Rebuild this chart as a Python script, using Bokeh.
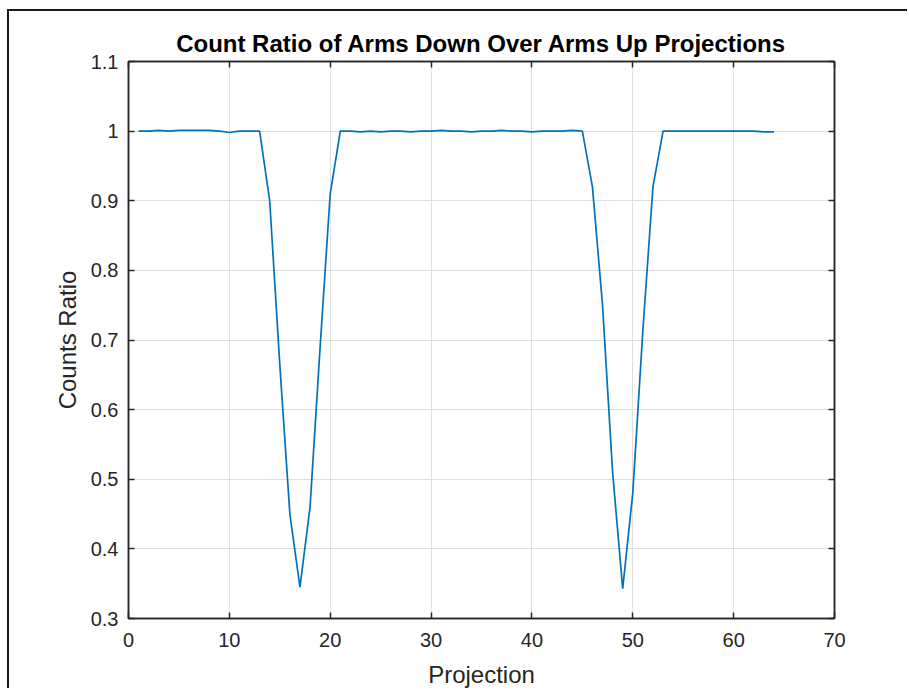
from bokeh.plotting import figure
from bokeh.models import FixedTicker, LinearAxis, ColumnDataSource
from bokeh.embed import file_html
from bokeh.resources import INLINE

# ---- data ----
projection = list(range(1, 65))
ratio = [
    1.000, 1.000, 1.001, 1.000, 1.001, 1.001, 1.001, 1.001, 1.000, 0.998, 1.000, 1.000, 1.000,
    0.900, 0.665, 0.450, 0.345, 0.460, 0.690, 0.910, 1.000,
    1.000, 0.999, 1.000, 0.999, 1.000, 1.000, 0.999, 1.000, 1.000, 1.001, 1.000, 1.000,
    0.999, 1.000, 1.000, 1.001, 1.000, 1.000, 0.999, 1.000, 1.000, 1.000, 1.001,
    1.000,
    0.920, 0.750, 0.510, 0.343, 0.480, 0.714, 0.920, 1.000,
    1.000, 1.000, 1.000, 1.000, 1.000, 1.000, 1.000, 1.000, 1.000, 0.999, 0.999,
]
x_ticks = [0, 10, 20, 30, 40, 50, 60, 70]
y_ticks = [0.3, 0.4, 0.5, 0.6, 0.7, 0.8, 0.9, 1.0, 1.1]
y_tick_labels = ["0.3", "0.4", "0.5", "0.6", "0.7", "0.8", "0.9", "1", "1.1"]
title_text = "Count Ratio of Arms Down Over Arms Up Projections"
x_label = "Projection"
y_label = "Counts Ratio"

FONT = "Liberation Sans"
AX = "#262626"

src = ColumnDataSource(dict(x=projection, y=ratio))

p = figure(width=900, height=679, x_range=(0, 70), y_range=(0.3, 1.1),
           output_backend="svg", toolbar_location=None,
           min_border_left=119, min_border_right=75, min_border_top=50, min_border_bottom=72)
p.styles = {"margin-left": "7px", "margin-top": "9px",
            "border-left": "2px solid #1a1a1a", "border-top": "2px solid #1a1a1a"}
p.background_fill_color = "white"
p.border_fill_color = "white"

p.title.text = title_text
p.title.align = "center"
p.title.text_font = FONT
p.title.text_font_style = "bold"
p.title.text_font_size = "24px"
p.title.text_color = "black"
p.title.standoff = 10

p.line("x", "y", source=src, line_color="#0072BD", line_width=1.7)

xt = FixedTicker(ticks=x_ticks)
yt = FixedTicker(ticks=y_ticks)

def style_axis(ax):
    ax.axis_line_color = AX
    ax.axis_line_width = 1.5
    ax.major_tick_line_color = AX
    ax.major_tick_line_width = 1.5
    ax.major_tick_in = 6
    ax.major_tick_out = 0
    ax.minor_tick_line_color = None
    ax.major_label_text_font = FONT
    ax.major_label_text_color = AX
    ax.major_label_text_font_size = "20px"
    ax.axis_label_text_font = FONT
    ax.axis_label_text_font_style = "normal"
    ax.axis_label_text_font_size = "24px"
    ax.axis_label_text_color = AX

p.xaxis.ticker = xt
p.yaxis.ticker = yt
p.yaxis.major_label_overrides = {t: l for t, l in zip(y_ticks, y_tick_labels)}
p.xaxis.axis_label = x_label
p.yaxis.axis_label = y_label
style_axis(p.xaxis[0])
style_axis(p.yaxis[0])
p.xaxis.major_label_standoff = 14
p.yaxis.major_label_standoff = 10
p.xaxis.axis_label_standoff = 11
p.yaxis.axis_label_standoff = 7

# box ticks on top and right (no labels), as in the reference
top = LinearAxis(ticker=xt)
right = LinearAxis(ticker=yt)
style_axis(top)
style_axis(right)
for ax, ticks in ((top, x_ticks), (right, y_ticks)):
    ax.major_label_overrides = {t: "" for t in ticks}
    ax.major_label_text_color = None
    ax.major_label_standoff = 0
p.add_layout(top, "above")
p.add_layout(right, "right")

p.xgrid.ticker = xt
p.ygrid.ticker = yt
p.grid.grid_line_color = "#dedede"
p.grid.grid_line_width = 1
p.outline_line_color = AX
p.outline_line_width = 1.5

open("out.html", "w").write(file_html(p, INLINE))
